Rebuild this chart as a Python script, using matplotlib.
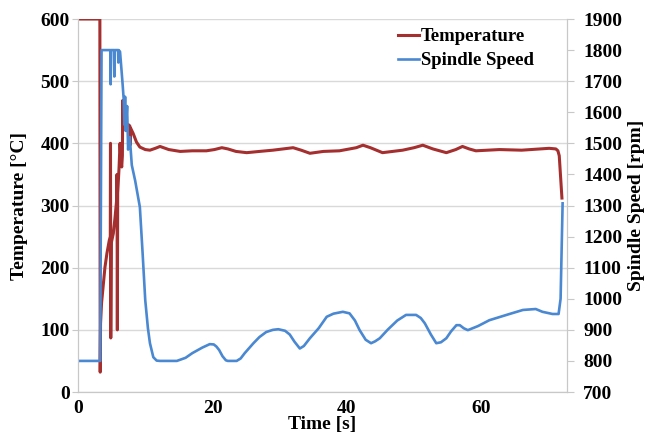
import matplotlib
matplotlib.use('Agg')
from matplotlib import pyplot as plt

# temperature trace (time in s, temperature in degC)
temp_time = [0, 3.25, 3.3, 3.35, 3.5, 4.0, 4.3, 4.65, 4.8, 4.83, 4.87, 4.95, 5.25, 5.5,
             5.75, 5.8, 5.85, 5.9, 6.1, 6.25, 6.4, 6.5, 6.6, 6.65, 6.7, 7.0, 7.3, 7.5,
             7.7, 7.75, 7.8, 8.2, 8.7, 9.2, 10.0, 10.7, 11.5, 12.2, 13.5, 15.2, 17.0,
             19.1, 20.3, 21.4, 22.3, 23.5, 25.1, 27.0, 29.0, 30.5, 32.0, 33.2, 34.5,
             36.5, 38.9, 40.4, 41.4, 42.4, 43.5, 45.3, 48.3, 50.0, 51.3, 52.8, 54.8,
             56.2, 57.2, 58.2, 59.2, 62.7, 66.0, 70.1, 71.1, 71.4, 71.6, 72.0]
temperature = [600, 600, 32, 110, 143, 200, 223, 244, 250, 400, 87, 240, 255, 280,
               309, 350, 100, 320, 360, 400, 370, 362, 380, 469, 421, 425, 429, 430,
               428, 397, 425, 416, 402, 394, 390, 389, 392, 395, 390, 387, 388,
               388, 390, 393, 391, 387, 385, 387, 389, 391, 393, 389, 384,
               387, 388, 391, 393, 397, 393, 385, 389, 393, 397, 391, 385,
               390, 395, 391, 388, 390, 389, 392, 391, 388, 380, 312]

# spindle speed trace (time in s, rpm)
speed_time = [0, 3.3, 3.5, 4.8, 4.85, 4.9, 5.35, 5.4, 5.45, 5.95, 6.0, 6.05, 6.25, 6.6,
              6.8, 6.9, 7.0, 7.1, 7.3, 7.45, 7.7, 8.0, 8.5, 9.2, 9.6, 10.0, 10.4, 10.7,
              11.2, 11.7, 12.2, 14.7, 16.0, 17.0, 18.5, 19.6, 20.2, 20.6, 21.0, 21.5,
              22.0, 22.3, 23.6, 24.2, 24.8, 26.1, 27.0, 28.0, 29.0, 29.8, 30.8, 31.5,
              32.2, 33.0, 33.6, 34.5, 35.8, 37.0, 38.0, 39.4, 40.4, 41.2, 41.9, 42.8,
              43.6, 44.2, 44.9, 46.1, 47.5, 48.8, 50.3, 51.0, 51.6, 52.5, 53.3, 54.0,
              54.8, 55.5, 56.3, 56.8, 57.4, 58.0, 59.5, 61.2, 64.2, 66.2, 68.1, 69.1,
              70.6, 71.5, 71.8, 72.1]
spindle_speed = [800, 800, 1800, 1800, 1690, 1800, 1800, 1715, 1800, 1800, 1760, 1800, 1795, 1700,
                 1640, 1560, 1650, 1540, 1620, 1480, 1520, 1430, 1380, 1295, 1150, 996, 905, 857,
                 812, 801, 800, 800, 810, 825, 843, 854, 853, 846, 835, 815,
                 802, 800, 800, 808, 825, 857, 877, 893, 900, 902, 897, 885,
                 862, 840, 848, 873, 905, 942, 952, 958, 953, 930, 899, 868,
                 857, 863, 873, 901, 930, 948, 948, 938, 921, 885, 857, 860,
                 873, 895, 915, 915, 905, 899, 912, 931, 951, 964, 967, 958,
                 951, 951, 1000, 1307]

red = '#a52f2f'
blue = '#4a88d2'
grey = '#c8c8c8'

plt.rcParams['font.family'] = ['Liberation Serif', 'DejaVu Serif']
plt.rcParams['font.weight'] = 'bold'

fig = plt.figure(figsize=(6.47, 4.36), dpi=100)
ax = fig.add_axes([0.1206, 0.1009, 0.7552, 0.8555])
ax2 = ax.twinx()

l1, = ax.plot(temp_time, temperature, color=red, lw=2.2, label='Temperature')
l2, = ax2.plot(speed_time, spindle_speed, color=blue, lw=1.9, label='Spindle Speed')

ax.set_xlim(0, 72.7)
ax.set_ylim(0, 600)
ax2.set_ylim(700, 1900)
ax.set_xticks([0, 20, 40, 60])
ax.set_yticks(range(0, 601, 100))
ax2.set_yticks(range(700, 1901, 100))

ax.yaxis.grid(True, color='#d9d9d9', lw=1)
ax.set_axisbelow(True)

for a in (ax, ax2):
    a.spines['top'].set_visible(False)
    for s in ('left', 'right', 'bottom'):
        a.spines[s].set_color(grey)
ax.tick_params(axis='both', labelsize=14, length=0, pad=6)
ax.tick_params(axis='y', length=4, color=grey, pad=2)
ax2.tick_params(axis='y', labelsize=14, length=5, color=grey, pad=7)

ax.set_xlabel('Time [s]', fontsize=14, fontweight='bold', labelpad=-1)
ax.set_ylabel('Temperature [°C]', fontsize=14, fontweight='bold', labelpad=9)
ax2.set_ylabel('Spindle Speed [rpm]', fontsize=14, fontweight='bold', labelpad=4)

ax2.legend([l1, l2], ['Temperature', 'Spindle Speed'], loc='upper left',
           bbox_to_anchor=(0.64, 0.995), frameon=False,
           prop={'weight': 'bold', 'size': 13.5},
           handlelength=1.1, handletextpad=0.1, labelspacing=0.35, borderaxespad=0)

plt.savefig('out.png', dpi=100)
